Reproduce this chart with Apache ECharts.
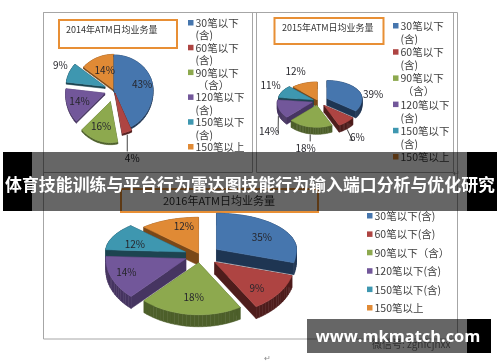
<!DOCTYPE html>
<html><head><meta charset="utf-8">
<style>html,body{margin:0;padding:0;background:#fff}#c{width:500px;height:362px}</style>
<script src="https://cdn.jsdelivr.net/npm/echarts@6/dist/echarts.min.js"></script>
</head><body><div id="c"></div>
<script>
var CJK = '"Noto Sans CJK SC","Noto Sans",sans-serif';
var values2014 = [43, 4, 16, 14, 9, 14];
var values2015 = [39, 6, 18, 14, 11, 12];
var values2016 = [35, 9, 18, 14, 12, 12];
var legendWrapped = ['30笔以下', '(含)', '60笔以下', '(含)', '90笔以下', ' （含）', '120笔以下', '(含)', '150笔以下', '(含)', '150笔以上'];
var legendFlat = ['30笔以下(含)', '60笔以下(含)', '90笔以下（含）', '120笔以下(含)', '150笔以下(含)', '150笔以上'];
var titles = ['2014年ATM日均业务量', '2015年ATM日均业务量', '2016年ATM日均业务量'];
var bannerTitle = '体育技能训练与平台行为雷达图技能行为输入端口分析与优化研究';
var siteText = 'www.mkmatch.com';
var wechatText = '微信号: zgnfcjnxx';

var topColors = ['#4676AE', '#AE4442', '#8DA94E', '#72579A', '#3E97B0', '#E08A35'];
var sideColors = ['#1E3552', '#4E1D1C', '#4D5F2A', '#463561', '#1D4450', '#7A4818'];

// warp: the perspective foreshortening of the right half of each tilted pie, in degrees
var PIES = [
 {values: values2014, cx:114, cy:90, rx:39, up:35, down:41, depth:2, warp:0,
  explode:[0,.08,.3,.25,.25,.02],
  labelF:[.74,1.6,.6,.68,1.25,.6], nudge:[[0,0],[-2,3],[-2,1],[0,-1],[0,-4],[1,0]], leader:[0,1,0,0,0,0]},
 {values: values2015, cx:318, cy:101, rx:35, up:18, down:22, depth:7, warp:25,
  explode:[.29,.26,.2,.17,.15,.06],
  labelF:[1.49,1.6,1.9,1.3,1.4,1.6], nudge:[[0,8],[-3,5],[1,2],[0,20],[1,-3],[-1,-2]], leader:[0,1,1,1,0,0]},
 {values: values2016, cx:200, cy:255, rx:80, up:36, down:52, depth:12, warp:26,
  explode:[.26,.23,.15,.19,.2,.05],
  labelF:[.7,.66,.6,.8,.7,.7], nudge:[[1,3],[0,5],[0,3],[0,-2],[0,3],[6,-4]], leader:[0,0,0,0,0,0]}
];

var sliceData = [];
PIES.forEach(function(p, pi){ p.values.forEach(function(v, si){ sliceData.push([pi, si, v]); }); });

function renderSlice(params, api){
  var pi = api.value(0), si = api.value(1), p = PIES[pi];
  var total = p.values.reduce(function(a,b){return a+b;},0);
  var before = 0; for (var k=0;k<si;k++) before += p.values[k];
  var w = p.warp*Math.PI/180;
  function warp(a){ return a<Math.PI ? a-w*Math.sin(a) : a; }
  var a0 = warp(before/total*2*Math.PI), a1 = warp((before+p.values[si])/total*2*Math.PI), mid=(a0+a1)/2;
  function pt(ox,oy,a,f){
    var c=Math.cos(a), ry=c>0?p.up:p.down;
    return [ox+Math.sin(a)*f*p.rx, oy-c*f*ry];
  }
  var apex = pt(p.cx,p.cy,mid,p.explode[si]);
  var top=[apex], n=Math.max(4,Math.ceil((a1-a0)/0.05));
  for (var i=0;i<=n;i++) top.push(pt(apex[0],apex[1],a0+(a1-a0)*i/n,1));
  var kids=[];
  var base=Math.round(-Math.cos(mid)*50)+60;
  for (var j=0;j<top.length;j++){
    var A=top[j], B=top[(j+1)%top.length];
    kids.push({type:'polygon', z2:base,
      shape:{points:[A,B,[B[0],B[1]+p.depth],[A[0],A[1]+p.depth]]},
      style:{fill:sideColors[si], stroke:sideColors[si], lineWidth:.5}});
  }
  kids.push({type:'polygon', z2:base+1, shape:{points:top},
    style:{fill:topColors[si], stroke:topColors[si], lineWidth:.5}});
  var lp = pt(apex[0],apex[1],mid,p.labelF[si]);
  lp=[lp[0]+p.nudge[si][0], lp[1]+p.nudge[si][1]];
  if (p.leader[si]){
    var e = pt(apex[0],apex[1],mid,1.02); e[1]+=p.depth;
    var end=[lp[0],lp[1]];
    var dirx=end[0]-e[0], diry=end[1]-e[1];
    var pts;
    if (Math.abs(diry)>Math.abs(dirx)) pts=[e,[e[0],end[1]-7]];
    else pts=[e,[e[0]+dirx*.5,end[1]],[end[0]-9,end[1]]];
    if (si===1 && pi===1) pts=[e,[e[0]+5,end[1]+3],[end[0]-8,end[1]+3]];
    if (si===3 && pi===1) pts=[e,[end[0]+9,end[1]+2]];
    kids.push({type:'polyline', z2:200, shape:{points:pts}, style:{fill:'none',stroke:'#444',lineWidth:1}});
  }
  kids.push({type:'text', z2:201, style:{x:lp[0],y:lp[1],text:p.values[si]+'%',
    fill:'#26262c',font:'10px '+CJK,align:'center',verticalAlign:'middle'}});
  return {type:'group', children:kids};
}

var LEG = [
 {x:188, y:23, step:12.4, font:10.5},
 {x:393, y:26, step:13.1, font:10.5},
 {x:367, y:216, step:18.4, font:10.5}
];
function legendEls(cfg, lines){
  var els=[], swatch=0;
  lines.forEach(function(t,i){
    var y=cfg.y+i*cfg.step;
    var isEntry=/笔/.test(t);
    if(isEntry){
      els.push({type:'rect',z:5,shape:{x:cfg.x,y:y-3,width:5.5,height:5.5},style:{fill:topColors[swatch]}});
      swatch++;
    }
    els.push({type:'text',z:5,style:{x:cfg.x+7.5,y:y,text:t,fill:'#404040',font:cfg.font+'px '+CJK,verticalAlign:'middle'}});
  });
  return els;
}
function frame(x,y,w,h){return {type:'rect',z:1,shape:{x:x,y:y,width:w,height:h},style:{fill:'none',stroke:'#a6a6a6',lineWidth:1}};}
function box(x,y,w,h){return {type:'rect',z:5,shape:{x:x,y:y,width:w,height:h},style:{fill:'#fff',stroke:'#E88F35',lineWidth:2}};}
function title(x,y,t,s){return {type:'text',z:6,style:{x:x,y:y,text:t,fill:'#333',font:s+'px '+CJK,verticalAlign:'middle'}};}

var graphics = [
  frame(43.5,12.5,414,326.5),
  frame(43.5,12.5,209,160),
  frame(256.5,12.5,197,160),
  box(59,20,118,28), box(274.5,18,109,26), box(121,189,197,23),
  title(66,30,titles[0],9), title(282,28,titles[1],9), title(163,200.5,titles[2],11)
]
.concat(legendEls(LEG[0],legendWrapped))
.concat(legendEls(LEG[1],legendWrapped))
.concat(legendEls(LEG[2],legendFlat))
.concat([
  {type:'text',z:6,style:{x:372,y:344,text:wechatText,fill:'#777',font:'10px '+CJK,verticalAlign:'middle'}},
  {type:'text',z:6,style:{x:456,y:173,text:'↵',fill:'#888',font:'8px '+CJK,align:'center',verticalAlign:'middle'}},
  {type:'text',z:6,style:{x:267,y:358,text:'↵',fill:'#888',font:'8px '+CJK,align:'center',verticalAlign:'middle'}},
  {type:'rect',z:50,shape:{x:3,y:152,width:29,height:59},style:{fill:'#000'}},
  {type:'rect',z:50,shape:{x:467,y:152,width:30,height:59},style:{fill:'#000'}},
  {type:'rect',z:50,shape:{x:32,y:152,width:435,height:59},style:{fill:'rgba(0,0,0,.6)'}},
  {type:'rect',z:50,shape:{x:467,y:319,width:24,height:34},style:{fill:'#000'}},
  {type:'rect',z:50,shape:{x:307,y:319,width:160,height:34},style:{fill:'rgba(0,0,0,.6)'}},
  {type:'text',z:51,style:{x:250,y:185,text:bannerTitle,fill:'#fff',font:'bold 16.9px '+CJK,align:'center',verticalAlign:'middle'}},
  {type:'text',z:51,style:{x:398,y:337,text:siteText,fill:'#fff',font:'bold 16.4px "Open Sans","Noto Sans",sans-serif',align:'center',verticalAlign:'middle'}}
]);

var chart = echarts.init(document.getElementById('c'), null, {renderer:'canvas', width:500, height:362});
chart.setOption({
  animation:false,
  backgroundColor:'#fff',
  graphic:{elements:graphics},
  series:[{type:'custom', coordinateSystem:'none', z:10, silent:true,
    renderItem:renderSlice, data:sliceData}]
});
</script></body></html>
